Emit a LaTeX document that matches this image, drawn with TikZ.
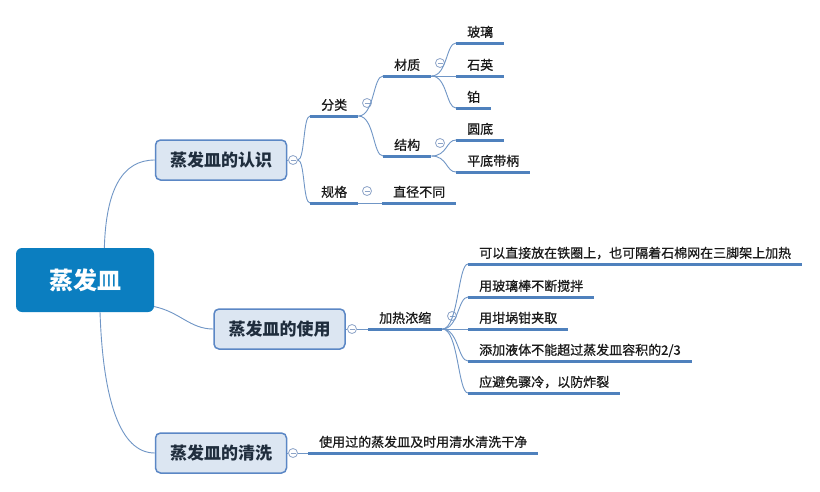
\documentclass[tikz,border=0pt]{standalone}
\usepackage{fontspec}
\newfontfamily\cjk{Noto Sans CJK SC}
\newfontfamily\cjkleaf[FakeBold=0.8]{Noto Sans CJK SC}
\definecolor{rootblue}{HTML}{0B7EC0}
\definecolor{boxfill}{HTML}{DCE6F2}
\definecolor{boxline}{HTML}{5B87C5}
\definecolor{uline}{HTML}{4F81BD}
\definecolor{conn}{HTML}{7096C6}
\definecolor{circ}{HTML}{8DA4C8}
\definecolor{txt}{HTML}{1A1A1A}
\definecolor{boxtxt}{HTML}{1F2D3D}
\tikzset{
  rootbox/.style={draw=none, fill=rootblue, rounded corners=6pt, minimum width=138pt, minimum height=64pt, text=white, font=\cjk\bfseries\fontsize{24}{26}\selectfont},
  branchbox/.style={draw=boxline, line width=1.5pt, fill=boxfill, rounded corners=5pt, minimum width=131pt, minimum height=40pt, text=boxtxt, font=\cjk\bfseries\fontsize{17}{19}\selectfont},
  leaf/.style={anchor=south west, inner xsep=11pt, inner ysep=3pt, text height=10pt, text depth=3pt, text=txt, font=\cjkleaf\fontsize{13}{15}\selectfont},
  uline/.style={draw=uline, line width=3pt},
  connector/.style={draw=conn, line width=0.9pt},
  togglebox/.style={circle, draw=circ, fill=white, line width=0.8pt, minimum size=9pt, inner sep=0pt,
    path picture={\draw[circ, line width=0.8pt] ([xshift=-2.5pt]path picture bounding box.center) -- ([xshift=2.5pt]path picture bounding box.center);}}
}
\newcommand{\ul}[1]{\draw[uline] (#1.south west) -- (#1.south east);}
\begin{document}
\begin{tikzpicture}[x=1pt,y=-1pt]
\useasboundingbox (0,0) rectangle (820,491);
\fill[white] (0,0) rectangle (820,491);

% root
\node[rootbox] (root) at (85,280) {蒸发皿};

% branches
\node[branchbox] (b1) at (221,160) {蒸发皿的认识};
\node[branchbox] (b2) at (279.5,329) {蒸发皿的使用};
\node[branchbox] (b3) at (221,453) {蒸发皿的清洗};

\node[togglebox] (t1) at (293,160) {};
\node[togglebox] (t2) at (352,329) {};
\node[togglebox] (t3) at (293,453) {};

% root connectors
\draw[connector] (root.59) .. controls (106,190) and (122,160) .. (b1.west);
\draw[connector] (root.-21) .. controls (180,312) and (190,329) .. (b2.west);
\draw[connector] (root.-65) .. controls (103,400) and (120,453) .. (b3.west);

\draw[connector] (b1.east) -- (t1.west);
\draw[connector] (b2.east) -- (t2.west);
\draw[connector] (b3.east) -- (t3.west);

% branch 1 sub-nodes
\node[leaf] (fenlei) at (310,116) {分类};
\node[leaf] (guige) at (310,203) {规格};
\node[leaf] (zhijing) at (382,203) {直径不同};
\node[leaf] (caizhi) at (383,76) {材质};
\node[leaf] (jiegou) at (383,156) {结构};
\node[leaf] (boli) at (456,43) {玻璃};
\node[leaf] (shiying) at (456,76) {石英};
\node[leaf] (bo) at (456,108) {铂};
\node[leaf] (yuandi) at (456,140) {圆底};
\node[leaf] (pingdi) at (456,172) {平底带柄};

\node[togglebox] (tf) at (367,103) {};
\node[togglebox] (tg) at (367,191) {};
\node[togglebox] (tc) at (440,63) {};
\node[togglebox] (tj) at (440,143) {};

\draw[connector] (t1.east) .. controls +(7,0) and +(-7,0) .. (fenlei.south west);
\draw[connector] (t1.east) .. controls +(7,0) and +(-7,0) .. (guige.south west);
\draw[connector] (guige.south east) -- (zhijing.south west);
\draw[connector] (fenlei.south east) .. controls +(16,0) and +(-10,0) .. (caizhi.south west);
\draw[connector] (fenlei.south east) .. controls +(16,0) and +(-10,0) .. (jiegou.south west);
\draw[connector] (caizhi.south east) .. controls +(16,0) and +(-10,0) .. (boli.south west);
\draw[connector] (caizhi.south east) -- (shiying.south west);
\draw[connector] (caizhi.south east) .. controls +(16,0) and +(-10,0) .. (bo.south west);
\draw[connector] (jiegou.south east) .. controls +(16,0) and +(-10,0) .. (yuandi.south west);
\draw[connector] (jiegou.south east) .. controls +(16,0) and +(-10,0) .. (pingdi.south west);

\foreach \n in {fenlei,guige,zhijing,caizhi,jiegou,boli,shiying,bo,yuandi,pingdi} {\ul{\n}}

% branch 2
\node[leaf] (jiare) at (368,329) {加热浓缩};
\node[togglebox] (tr) at (452,316) {};
\node[leaf] (u1) at (468,264) {可以直接放在铁圈上，也可隔着石棉网在三脚架上加热};
\node[leaf] (u2) at (468,297) {用玻璃棒不断搅拌};
\node[leaf] (u3) at (468,329) {用坩埚钳夹取};
\node[leaf] (u4) at (468,361) {添加液体不能超过蒸发皿容积的2/3};
\node[leaf] (u5) at (468,393) {应避免骤冷，以防炸裂};

\draw[connector] (t2.east) -- (jiare.south west);
\draw[connector] (jiare.south east) .. controls +(16,0) and +(-10,0) .. (u1.south west);
\draw[connector] (jiare.south east) .. controls +(16,0) and +(-10,0) .. (u2.south west);
\draw[connector] (jiare.south east) -- (u3.south west);
\draw[connector] (jiare.south east) .. controls +(16,0) and +(-10,0) .. (u4.south west);
\draw[connector] (jiare.south east) .. controls +(16,0) and +(-10,0) .. (u5.south west);
\foreach \n in {jiare,u1,u2,u3,u4,u5} {\ul{\n}}

% branch 3
\node[leaf] (qx) at (308,453) {使用过的蒸发皿及时用清水清洗干净};
\draw[connector] (t3.east) -- (qx.south west);
\ul{qx}
\end{tikzpicture}
\end{document}
